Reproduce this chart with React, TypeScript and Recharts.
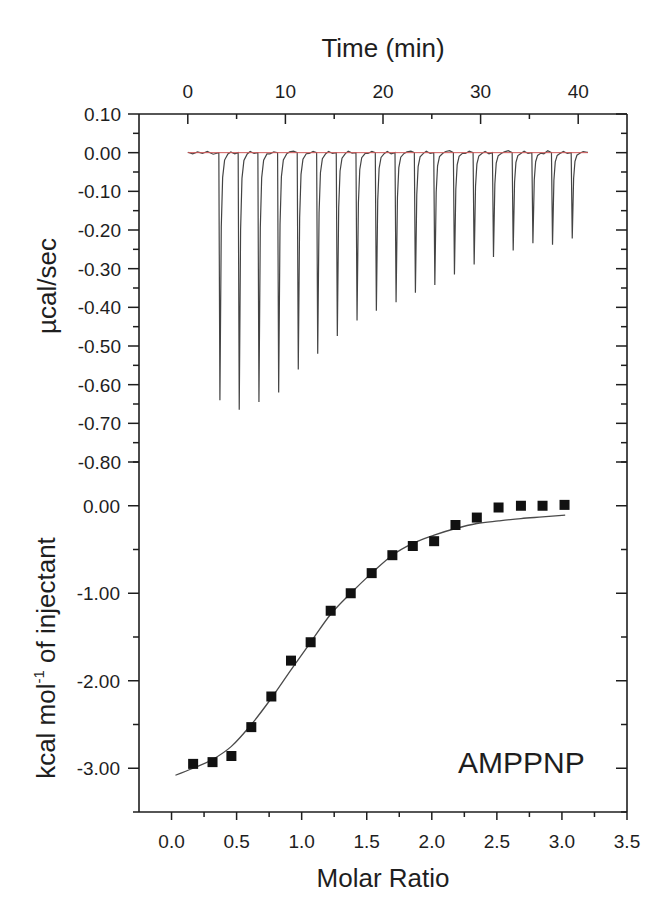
import { ComposedChart, Label, Line, LineChart, Scatter, XAxis, YAxis } from "recharts";

const FONT = '"Liberation Sans", Arial, Helvetica, sans-serif';
const INK = "#1e1e1e";

// thermogram: injection times (min) and peak depth (µcal/sec)
const injectionTimes = [
  3.21, 5.19, 7.21, 9.23, 11.24, 13.23, 15.24, 17.26, 19.24, 21.26, 23.24, 25.23, 27.24, 29.26,
  31.24, 33.26, 35.28, 37.29, 39.31,
];
const peakHeights = [
  -0.64, -0.665, -0.645, -0.62, -0.561, -0.52, -0.474, -0.434, -0.409, -0.387, -0.362, -0.342,
  -0.315, -0.289, -0.27, -0.253, -0.234, -0.238, -0.222,
];
// one peak: [min after injection, fraction of depth]
const peakProfile = [
  [-0.03, 0],
  [0.08, 1],
  [0.22, 0.3],
  [0.36, 0.1],
  [0.56, 0.03],
  [0.9, 0.005],
];
// baseline before first injection [min, µcal/sec]
const baselineBefore = [
  [0, 0.001],
  [0.5, -0.003],
  [1.0, 0.002],
  [1.5, -0.002],
  [2.0, 0.003],
  [2.6, -0.004],
];
// baseline between peaks, at 1.2 and 1.6 min after each injection
const afterOffsets = [1.2, 1.6];
const baselineAfter = [
  [0.002, -0.003],
  [0.003, -0.002],
  [-0.003, 0.002],
  [0.002, 0.004],
  [-0.002, 0.003],
  [0.003, -0.002],
  [0.004, -0.001],
  [-0.002, 0.003],
  [0.003, -0.003],
  [0.002, 0.004],
  [0.004, -0.002],
  [0.003, 0.005],
  [-0.002, 0.004],
  [0.003, -0.003],
  [0.002, 0.005],
  [0.004, -0.002],
  [-0.003, 0.005],
  [0.003, -0.002],
  [0.003, 0.001],
];
const redBaseline = [
  { t: 0, v: 0 },
  { t: 41, v: 0 },
];

// integrated heats
const molarRatio = [
  0.166, 0.315, 0.46, 0.613, 0.767, 0.918, 1.069, 1.223, 1.377, 1.538, 1.697, 1.854, 2.018, 2.182,
  2.346, 2.513, 2.685, 2.851, 3.02,
];
const heat = [
  -2.95, -2.93, -2.86, -2.53, -2.18, -1.77, -1.56, -1.2, -1.0, -0.77, -0.565, -0.46, -0.405, -0.22,
  -0.135, -0.02, 0.0, 0.0, 0.01,
];
// fitted curve
const fitRatio = [
  0.03, 0.166, 0.315, 0.46, 0.613, 0.767, 0.918, 1.069, 1.223, 1.377, 1.538, 1.697, 1.854, 2.018,
  2.182, 2.346, 2.513, 2.685, 2.851, 3.025,
];
const fitHeat = [
  -3.08, -3.0, -2.9, -2.75, -2.5, -2.2, -1.876, -1.56, -1.24, -1.0, -0.77, -0.565, -0.43, -0.336,
  -0.26, -0.203, -0.173, -0.146, -0.128, -0.108,
];

const timeTicks = [0, 5, 10, 15, 20, 25, 30, 35, 40];
const powerTicks = [
  0.1, 0.05, 0, -0.05, -0.1, -0.15, -0.2, -0.25, -0.3, -0.35, -0.4, -0.45, -0.5, -0.55, -0.6, -0.65,
  -0.7, -0.75, -0.8,
];
const ratioTicks = [0, 0.25, 0.5, 0.75, 1, 1.25, 1.5, 1.75, 2, 2.25, 2.5, 2.75, 3, 3.25, 3.5];
const heatTicks = [0.5, 0, -0.5, -1, -1.5, -2, -2.5, -3, -3.5];

const thermogram: { t: number; v: number }[] = baselineBefore.map(([t, v]) => ({ t, v }));
injectionTimes.forEach((t0, i) => {
  peakProfile.forEach(([dt, f]) => thermogram.push({ t: t0 + dt, v: peakHeights[i] * f }));
  afterOffsets.forEach((dt, j) => thermogram.push({ t: t0 + dt, v: baselineAfter[i][j] }));
});
thermogram.push({ t: 41, v: 0.001 });

const points = molarRatio.map((x, i) => ({ x, y: heat[i] }));
const fitCurve = fitRatio.map((x, i) => ({ x, y: fitHeat[i] }));

type TickProps = { x?: number; y?: number; payload?: { value: number } };

const tickText = { fontSize: 19, fontFamily: FONT, fill: INK };
const axisLine = { stroke: INK, strokeWidth: 1.6 };

function TimeTick({ x = 0, y = 0, payload }: TickProps) {
  const v = payload?.value ?? 0;
  const major = v % 10 === 0;
  return (
    <g>
      <line x1={x} x2={x} y1={y} y2={y + (major ? 10 : 5)} stroke={INK} strokeWidth={1.5} />
      {major && (
        <text x={x} y={y - 16} textAnchor="middle" {...tickText}>
          {v}
        </text>
      )}
    </g>
  );
}

function PowerTick({ x = 0, y = 0, payload }: TickProps) {
  const v = payload?.value ?? 0;
  const major = Math.round(v * 100) % 10 === 0;
  return (
    <g>
      <line x1={x - (major ? 11 : 6)} x2={x} y1={y} y2={y} stroke={INK} strokeWidth={1.5} />
      {major && (
        <text x={x - 18} y={y + 7} textAnchor="end" {...tickText}>
          {v.toFixed(2)}
        </text>
      )}
    </g>
  );
}

function RightTick({ x = 0, y = 0, payload }: TickProps) {
  const v = payload?.value ?? 0;
  const major = Math.round(v * 100) % 10 === 0;
  return <line x1={x - (major ? 11 : 6)} x2={x} y1={y} y2={y} stroke={INK} strokeWidth={1.5} />;
}

function HeatRightTick({ x = 0, y = 0, payload }: TickProps) {
  const v = payload?.value ?? 0;
  const major = Number.isInteger(v);
  return <line x1={x - (major ? 11 : 6)} x2={x} y1={y} y2={y} stroke={INK} strokeWidth={1.5} />;
}

function HeatTick({ x = 0, y = 0, payload }: TickProps) {
  const v = payload?.value ?? 0;
  const major = Number.isInteger(v);
  return (
    <g>
      <line x1={x - (major ? 11 : 6)} x2={x} y1={y} y2={y} stroke={INK} strokeWidth={1.5} />
      {major && (
        <text x={x - 19} y={y + 7} textAnchor="end" {...tickText}>
          {v.toFixed(2)}
        </text>
      )}
    </g>
  );
}

function RatioTick({ x = 0, y = 0, payload }: TickProps) {
  const v = payload?.value ?? 0;
  const major = Math.round(v * 100) % 50 === 0;
  return (
    <g>
      <line x1={x} x2={x} y1={y} y2={y + (major ? 8 : 5)} stroke={INK} strokeWidth={1.5} />
      {major && (
        <text x={x} y={y + 36} textAnchor="middle" {...tickText}>
          {v.toFixed(1)}
        </text>
      )}
    </g>
  );
}

function RatioTopTick({ x = 0, y = 0, payload }: TickProps) {
  const v = payload?.value ?? 0;
  const major = Math.round(v * 100) % 50 === 0;
  return <line x1={x} x2={x} y1={y} y2={y + (major ? 10 : 6)} stroke={INK} strokeWidth={1.5} />;
}

const titleText = { fontSize: 26, fontFamily: FONT, fill: INK };

export default function App() {
  return (
    <div
      style={{ position: "absolute", left: 0, top: 0, width: 659, height: 903, background: "#fff" }}
    >
      <div style={{ position: "absolute", left: 0, top: 0 }}>
        <LineChart width={659} height={490} margin={{ top: 0, right: 0, bottom: 28, left: 0 }}>
          <XAxis
            xAxisId="time"
            orientation="top"
            type="number"
            dataKey="t"
            domain={[-5, 45]}
            ticks={timeTicks}
            interval={0}
            height={114}
            tickSize={0}
            tickMargin={0}
            tickLine={false}
            axisLine={axisLine}
            tick={(p: TickProps) => <TimeTick {...p} />}
            allowDataOverflow
          >
            <Label
              content={() => (
                <text x={383} y={57} textAnchor="middle" {...titleText}>
                  Time (min)
                </text>
              )}
            />
          </XAxis>
          <YAxis
            yAxisId="left"
            type="number"
            domain={[-0.8, 0.1]}
            ticks={powerTicks}
            interval={0}
            width={139}
            tickSize={0}
            tickMargin={0}
            tickLine={false}
            axisLine={axisLine}
            tick={(p: TickProps) => <PowerTick {...p} />}
            allowDataOverflow
          >
            <Label
              content={() => (
                <text x={56} y={286} textAnchor="middle" transform="rotate(-90, 56, 286)" {...titleText}>
                  µcal/sec
                </text>
              )}
            />
          </YAxis>
          <YAxis
            yAxisId="right"
            orientation="right"
            type="number"
            domain={[-0.8, 0.1]}
            ticks={powerTicks}
            interval={0}
            width={32}
            tickSize={0}
            tickMargin={0}
            tickLine={false}
            axisLine={axisLine}
            tick={(p: TickProps) => <RightTick {...p} />}
            allowDataOverflow
          />
          <Line
            xAxisId="time"
            yAxisId="left"
            data={thermogram}
            dataKey="v"
            type="linear"
            stroke="#444"
            strokeWidth={1.2}
            dot={false}
            isAnimationActive={false}
          />
          <Line
            xAxisId="time"
            yAxisId="left"
            data={redBaseline}
            dataKey="v"
            type="linear"
            stroke="#d05a5a"
            strokeWidth={1}
            dot={false}
            isAnimationActive={false}
          />
        </LineChart>
      </div>

      <div style={{ position: "absolute", left: 0, top: 440 }}>
        <ComposedChart width={659} height={463} margin={{ top: 22, right: 0, bottom: 0, left: 0 }}>
          <XAxis
            xAxisId="ratioTop"
            orientation="top"
            type="number"
            dataKey="x"
            domain={[-0.25, 3.5]}
            ticks={ratioTicks}
            interval={0}
            height={0}
            tickSize={0}
            tickMargin={0}
            tickLine={false}
            axisLine={axisLine}
            tick={(p: TickProps) => <RatioTopTick {...p} />}
            allowDataOverflow
          />
          <XAxis
            xAxisId="ratio"
            type="number"
            dataKey="x"
            domain={[-0.25, 3.5]}
            ticks={ratioTicks}
            interval={0}
            height={91}
            tickSize={0}
            tickMargin={0}
            tickLine={false}
            axisLine={axisLine}
            tick={(p: TickProps) => <RatioTick {...p} />}
            allowDataOverflow
          >
            <Label
              content={() => (
                <text x={383} y={447} textAnchor="middle" {...titleText}>
                  Molar Ratio
                </text>
              )}
            />
          </XAxis>
          <YAxis
            yAxisId="heat"
            type="number"
            dataKey="y"
            domain={[-3.5, 0.5]}
            ticks={heatTicks}
            interval={0}
            width={139}
            tickSize={0}
            tickMargin={0}
            tickLine={false}
            axisLine={axisLine}
            tick={(p: TickProps) => <HeatTick {...p} />}
            allowDataOverflow
          >
            <Label
              content={() => (
                <text x={55} y={218} textAnchor="middle" transform="rotate(-90, 55, 218)" {...titleText}>
                  kcal mol
                  <tspan fontSize={15} dy={-11}>
                    -1
                  </tspan>
                  <tspan dy={11}> of injectant</tspan>
                </text>
              )}
            />
          </YAxis>
          <YAxis
            yAxisId="heatRight"
            orientation="right"
            type="number"
            dataKey="y"
            domain={[-3.5, 0.5]}
            ticks={heatTicks}
            interval={0}
            width={32}
            tickSize={0}
            tickMargin={0}
            tickLine={false}
            axisLine={axisLine}
            tick={(p: TickProps) => <HeatRightTick {...p} />}
            allowDataOverflow
          />
          <Line
            xAxisId="ratio"
            yAxisId="heat"
            data={fitCurve}
            dataKey="y"
            type="monotone"
            stroke="#4a4a4a"
            strokeWidth={1.3}
            dot={false}
            isAnimationActive={false}
          />
          <Scatter
            xAxisId="ratio"
            yAxisId="heat"
            data={points}
            dataKey="y"
            fill="#111"
            shape={(p: { cx?: number; cy?: number }) => (
              <rect x={(p.cx ?? 0) - 5} y={(p.cy ?? 0) - 5} width={10} height={10} fill="#111" />
            )}
            isAnimationActive={false}
          />
        </ComposedChart>
      </div>

      <svg
        width={659}
        height={903}
        style={{ position: "absolute", left: 0, top: 0, pointerEvents: "none" }}
      >
        <text x={458} y={773} fontSize={30} fontFamily={FONT} fill={INK}>
          AMPPNP
        </text>
      </svg>
    </div>
  );
}
